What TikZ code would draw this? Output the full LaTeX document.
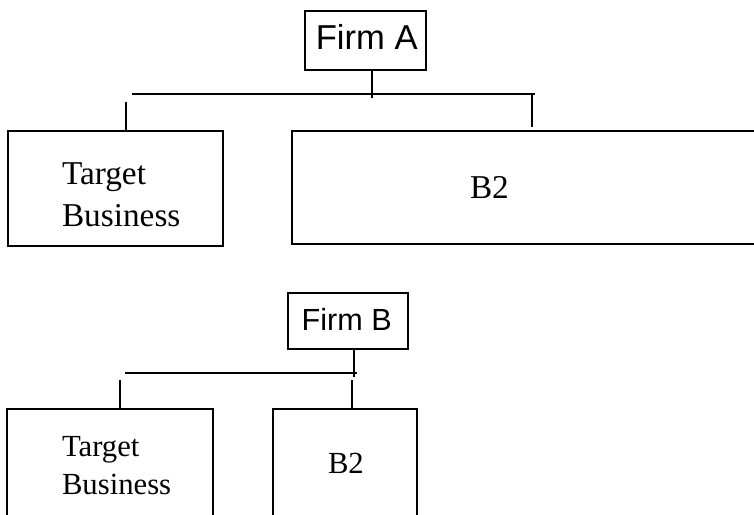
\documentclass[tikz,border=0pt]{standalone}
\usepackage{fontspec}
\setmainfont{Liberation Serif}
\setsansfont{Liberation Sans}
\begin{document}
\begin{tikzpicture}[x=1pt,y=-1pt,line width=2pt,
      mybox/.style={draw,rectangle,inner sep=0pt},
      firmtext/.style={inner sep=0pt,anchor=base},
      unittext/.style={inner sep=0pt,align=left}]
    \useasboundingbox (0,0) rectangle (754,514);
    \clip (0,0) rectangle (754,514);
    % Firm A
    \node[mybox,minimum width=121pt,minimum height=59pt] at (365.5,40.5) (FA) {};
    \node[firmtext,font=\sffamily\fontsize{34.6}{40}\selectfont] at (366.7,49.3) (FAtext) {Firm A};
    \node[mybox,minimum width=215pt,minimum height=115pt] at (115.5,188.5) (TA) {};
    \node[mybox,minimum width=478pt,minimum height=113pt] at (531,187.5) (BA) {};
    \node[unittext,anchor=north west,font=\fontsize{33.3}{41.6}\selectfont] at (61,162) (TAtext) {Target\\Business};
    \node[unittext,anchor=base west,font=\fontsize{33.3}{41.6}\selectfont] at (469,198.3) (BAtext) {B2};
    \coordinate (stemA) at (372,98);
    \coordinate (barAl) at (132,94);
    \coordinate (barAr) at (535,94);
    \coordinate (dropAl) at (126,102);
    \coordinate (dropAr) at (532,127);
    \draw (FA.south -| stemA) -- (stemA);
    \draw (barAl) -- (barAr);
    \draw (dropAl) -- (dropAl |- TA.north);
    \draw (dropAr |- barAr) -- (dropAr);
    % Firm B
    \node[mybox,minimum width=120pt,minimum height=56pt] at (348,321) (FB) {};
    \node[firmtext,font=\sffamily\fontsize{30.6}{36}\selectfont] at (346.7,330) (FBtext) {Firm B};
    \node[mybox,minimum width=206pt,minimum height=150pt] at (110,484) (TB) {};
    \node[mybox,minimum width=144pt,minimum height=150pt] at (345,484) (BB) {};
    \node[unittext,anchor=north west,font=\fontsize{30.7}{38}\selectfont] at (61,435) (TBtext) {Target\\Business};
    \node[unittext,anchor=base west,font=\fontsize{30.7}{38}\selectfont] at (327,473.3) (BBtext) {B2};
    \coordinate (stemB) at (354,377);
    \coordinate (barBl) at (125,373);
    \coordinate (barBr) at (357,373);
    \coordinate (dropBl) at (120,380);
    \coordinate (dropBr) at (352,380);
    \draw (FB.south -| stemB) -- (stemB);
    \draw (barBl) -- (barBr);
    \draw (dropBl) -- (dropBl |- TB.north);
    \draw (dropBr) -- (dropBr |- BB.north);
\end{tikzpicture}
\end{document}
